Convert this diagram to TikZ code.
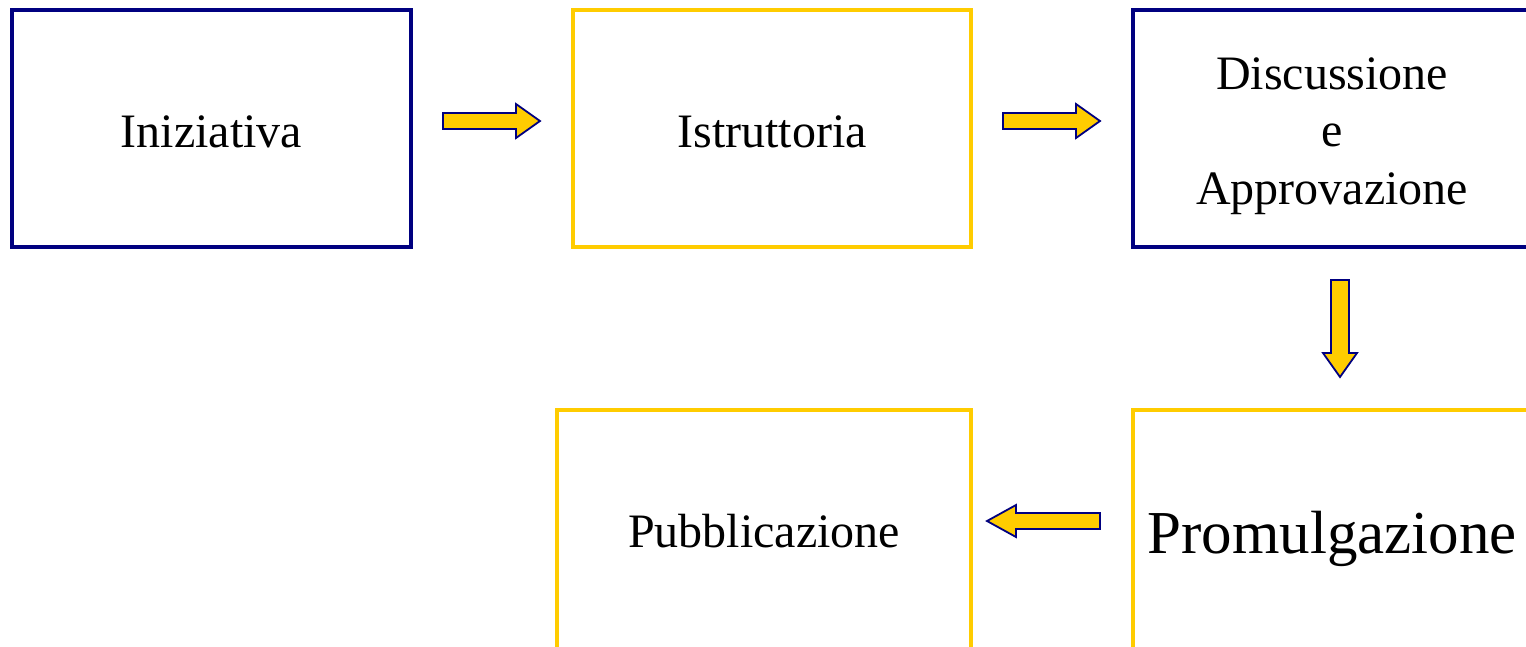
\documentclass[tikz,border=0pt]{standalone}
\usepackage{fontspec}
\setmainfont{Liberation Serif}
\definecolor{navy}{RGB}{0,0,128}
\definecolor{gold}{RGB}{255,204,0}
\begin{document}
\begin{tikzpicture}[x=1pt,y=-1pt,
  box/.style={draw, line width=4pt, rectangle, inner sep=0pt, align=center,
    font=\fontsize{48}{57}\selectfont, text depth=0pt},
  navybox/.style={box, draw=navy},
  goldbox/.style={box, draw=gold},
  line/.style={inner sep=0pt, anchor=base, font=\fontsize{48}{57}\selectfont},
  blockarrow/.style={fill=gold, draw=navy, line width=1.8pt, line join=miter}]
\clip (0,0) rectangle (1526,646);
\fill[white] (0,0) rectangle (1526,646);
\node[navybox, minimum width=399pt, minimum height=237pt, text height=37pt] (ini) at (211.5,128.5) {Iniziativa};
\node[goldbox, minimum width=398pt, minimum height=237pt, text height=37pt] (ist) at (772,128.5) {Istruttoria};
\node[navybox, minimum width=398pt, minimum height=237pt] (dis) at (1332,128.5) {};
\node[line] (dis1) at (1332,89.3) {Discussione};
\node[line] (dis2) at (1332,146.7) {e};
\node[line] (dis3) at (1332,204) {Approvazione};
\node[goldbox, minimum width=398pt, minimum height=241pt, text height=45pt, font=\fontsize{61}{70}\selectfont] (pro) at (1332,530.5) {Promulgazione};
\node[goldbox, minimum width=414pt, minimum height=241pt, text height=33pt] (pub) at (764,530.5) {Pubblicazione};
% block arrows
\filldraw[blockarrow] (443,113) -- (516,113) -- (516,104) -- (540,121) -- (516,138) -- (516,129) -- (443,129) -- cycle;
\filldraw[blockarrow] (1003,113) -- (1076,113) -- (1076,104) -- (1100,121) -- (1076,138) -- (1076,129) -- (1003,129) -- cycle;
\filldraw[blockarrow] (1331,280) -- (1331,353) -- (1323,353) -- (1340,377) -- (1357,353) -- (1349,353) -- (1349,280) -- cycle;
\filldraw[blockarrow] (1100,513) -- (1016,513) -- (1016,505) -- (987,521) -- (1016,537) -- (1016,529) -- (1100,529) -- cycle;
\end{tikzpicture}
\end{document}
